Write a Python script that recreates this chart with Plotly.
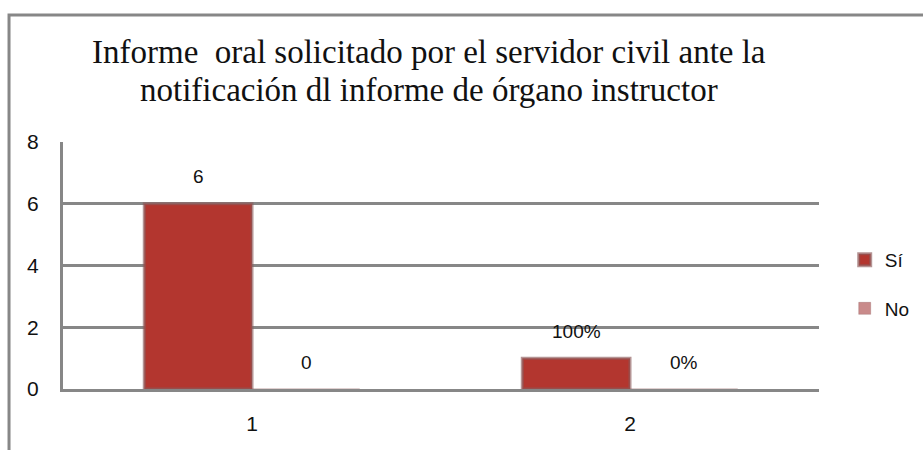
import plotly.graph_objects as go

# chart data
categories = ["1", "2"]
series_names = ["Sí", "No"]
si_values = [6, 1]
no_values = [0, 0]
si_labels = ["6", "100%"]
no_labels = ["0", "0%"]
y_ticks = [0, 2, 4, 6, 8]

title_lines = ["Informe  oral solicitado por el servidor civil ante la",
               "notificación dl informe de órgano instructor"]

GRID = "#878787"
SI_COLOR = "#B3362F"
NO_COLOR = "#C98A8A"
SANS = "Liberation Sans, Arial"
SERIF = "Liberation Serif, Times New Roman"

fig = go.Figure()

fig.add_trace(go.Bar(
    x=categories, y=si_values, name=series_names[0],
    marker=dict(color=SI_COLOR, line=dict(color="rgba(140,90,90,0.65)", width=3)),
    legendgroup="si",
))
fig.add_trace(go.Bar(
    x=categories, y=no_values, name=series_names[1],
    marker=dict(color=NO_COLOR, line=dict(color="rgba(140,90,90,0.3)", width=1)),
    legendgroup="no",
))

# value labels above each bar (shifted to their slot in the group)
annotations = []
for labels, values, shift in ((si_labels, si_values, -54), (no_labels, no_values, 54)):
    for i, (val, lab) in enumerate(zip(values, labels)):
        annotations.append(dict(
            x=i, y=val, xref="x", yref="y", text=lab, showarrow=False,
            xshift=shift, yshift=27, yanchor="middle",
            font=dict(family=SANS, size=19, color="#111111"),
        ))

# two-line title, placed line by line to keep the tight spacing
for line, ypos in zip(title_lines, (1.365, 1.21)):
    annotations.append(dict(
        x=0.484, y=ypos, xref="paper", yref="paper", text=line, showarrow=False,
        xanchor="center", yanchor="middle",
        font=dict(family=SERIF, size=33, color="#111111"),
    ))

fig.update_layout(
    width=923, height=450,
    margin=dict(l=63, r=104, t=142, b=61, autoexpand=False),
    paper_bgcolor="white", plot_bgcolor="white",
    barmode="group", bargap=0.43, bargroupgap=0,
    legend=dict(
        x=1.034, y=0.6, xanchor="left", yanchor="top",
        font=dict(family=SANS, size=19, color="#111111"),
        tracegroupgap=21, itemwidth=30, bgcolor="rgba(0,0,0,0)",
    ),
    annotations=annotations,
    shapes=[dict(
        type="rect", xref="paper", yref="paper",
        x0=-0.0714, x1=1.3, y0=-0.4, y1=1.514,
        line=dict(color=GRID, width=3), fillcolor="rgba(0,0,0,0)", layer="below",
    )],
)

fig.update_yaxes(
    range=[0, 8], tickvals=y_ticks, showgrid=True, gridcolor=GRID, gridwidth=3,
    showline=True, linecolor=GRID, linewidth=3, zeroline=False,
    ticks="", ticklabelstandoff=17, automargin=False,
    tickfont=dict(family=SANS, size=21, color="#111111"),
)
fig.update_xaxes(
    type="category", range=[-0.5, 1.5], showgrid=False,
    showline=True, linecolor=GRID, linewidth=3,
    ticks="", ticklabelstandoff=14, automargin=False,
    tickfont=dict(family=SANS, size=21, color="#111111"),
)

# drop the page's default body margin so the figure sits at the window corner
fig.write_html(
    "out.html",
    config={"displayModeBar": False},
    post_script="document.body.style.margin='0';",
)
